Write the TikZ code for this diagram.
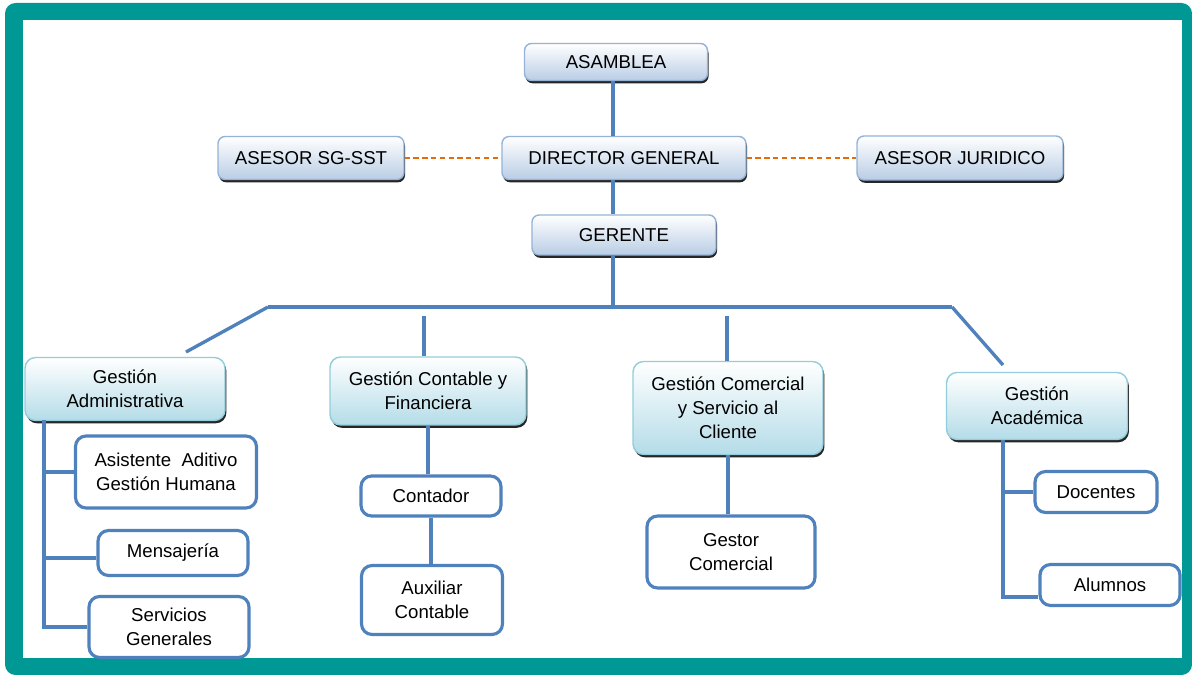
\documentclass[tikz,border=0pt]{standalone}
\usepackage{fontspec}
\setmainfont{Liberation Sans}
\usetikzlibrary{shadows}

\definecolor{frameteal}{RGB}{0,152,148}
\definecolor{linkblue}{RGB}{79,129,189}
\definecolor{advorange}{RGB}{228,108,10}
\definecolor{topfill}{RGB}{185,205,229}
\definecolor{topline}{RGB}{149,179,215}
\definecolor{areafill}{RGB}{180,220,232}
\definecolor{arealine}{RGB}{146,205,220}

\tikzset{
  topbox/.style={draw=topline, line width=0.8pt, rounded corners=4pt,
    top color=white, bottom color=topfill, inner sep=0pt,
    drop shadow={shadow xshift=0.6pt, shadow yshift=-1.6pt, fill=black!85, opacity=1}},
  areabox/.style={draw=arealine, line width=0.8pt, rounded corners=6pt,
    top color=white, bottom color=areafill, inner sep=0pt, align=center,
    drop shadow={shadow xshift=0.8pt, shadow yshift=-1.6pt, fill=black!85, opacity=1}},
  subbox/.style={draw=linkblue, line width=1.8pt, rounded corners=6pt,
    fill=white, inner sep=0pt, align=center},
  link/.style={draw=linkblue, line width=1.9pt},
  advice/.style={draw=advorange, line width=1.2pt, dash pattern=on 3pt off 2pt}
}

\begin{document}
\begin{tikzpicture}[x=0.02cm, y=-0.02cm, font=\fontsize{10.6}{13.6}\selectfont]
        \useasboundingbox (0,0) rectangle (1192,675);
        % frame
        \fill[frameteal, rounded corners=6pt] (5,3) rectangle (1192,675);
        \fill[white] (23,20) rectangle (1182,658);

        % top levels
        \node[topbox, minimum width=3.66cm, minimum height=0.74cm] (asam) at (616,62) {ASAMBLEA};
        \node[topbox, minimum width=4.88cm, minimum height=0.86cm] (dir) at (624,158) {DIRECTOR GENERAL\hspace{0.45cm}};
        \node[topbox, minimum width=3.72cm, minimum height=0.86cm] (sgsst) at (311,158) {ASESOR SG-SST};
        \node[topbox, minimum width=4.12cm, minimum height=0.88cm] (jur) at (960,158) {ASESOR JURIDICO};
        \node[topbox, minimum width=3.68cm, minimum height=0.80cm] (ger) at (624,235) {GERENTE};

        % areas
        \node[areabox, minimum width=4.00cm, minimum height=1.26cm] (adm) at (125,389) {Gestión\\Administrativa};
        \node[areabox, minimum width=3.92cm, minimum height=1.36cm] (cont) at (428,391) {Gestión Contable y\\Financiera};
        \node[areabox, minimum width=3.80cm, minimum height=1.86cm] (com) at (728,408) {Gestión Comercial\\y Servicio al\\Cliente};
        \node[areabox, minimum width=3.62cm, minimum height=1.34cm] (aca) at (1037,406) {Gestión\\Académica};

        % units
        \node[subbox, minimum width=3.62cm, minimum height=1.44cm] (asis) at (166,472) {Asistente\ \ Aditivo\\Gestión Humana};
        \node[subbox, minimum width=3.00cm, minimum height=0.90cm] (men) at (173,553) {Mensajería};
        \node[subbox, minimum width=3.20cm, minimum height=1.22cm] (ser) at (169,627) {Servicios\\Generales};
        \node[subbox, minimum width=2.80cm, minimum height=0.80cm] (ctd) at (431,496) {Contador};
        \node[subbox, minimum width=2.82cm, minimum height=1.38cm] (aux) at (432,600) {Auxiliar\\Contable};
        \node[subbox, minimum width=3.36cm, minimum height=1.44cm] (ges) at (731,552) {Gestor\\Comercial};
        \node[subbox, minimum width=2.44cm, minimum height=0.82cm] (doc) at (1096,492) {Docentes};
        \node[subbox, minimum width=2.80cm, minimum height=0.82cm] (alu) at (1110,585) {Alumnos};

        % trunk and bus
        \coordinate (trunk) at (613,307);
        \coordinate (busL) at (268,307);
        \coordinate (busR) at (952,307);
        \draw[link] (asam.south -| trunk) -- (dir.north -| trunk);
        \draw[link] (dir.south -| trunk) -- (ger.north -| trunk);
        \draw[link] (ger.south -| trunk) -- (trunk);
        \draw[link] (busL) -- (busR);
        \draw[advice] (sgsst) -- (dir);
        \draw[advice] (dir) -- (jur);

        % drops to the areas
        \coordinate (admEnd) at (186,352);
        \coordinate (contTop) at (424,316);
        \coordinate (comTop) at (727,316);
        \coordinate (acaEnd) at (1003,365);
        \draw[link] (busL) -- (admEnd);
        \draw[link] (contTop) -- (contTop |- cont.north);
        \draw[link] (comTop) -- (comTop |- com.north);
        \draw[link] (busR) -- (acaEnd);

        % subtrees
        \coordinate (admX) at (44,420);
        \draw[link] (admX) -- (admX |- ser.west) -- (ser.west);
        \draw[link] (admX |- asis.west) -- (asis.west);
        \draw[link] ([yshift=-0.1cm]admX |- men.west) -- ([yshift=-0.1cm]men.west);
        \draw[link] (cont.south) -- (cont.south |- ctd.north);
        \draw[link] (ctd.south) -- (ctd.south |- aux.north);
        \draw[link] (com.south) -- (com.south |- ges.north);
        \coordinate (acaX) at (1003,440);
        \draw[link] (acaX) -- ([yshift=-0.24cm]acaX |- alu.west) -- ([yshift=-0.24cm]alu.west);
        \draw[link] (acaX |- doc.west) -- (doc.west);
    \end{tikzpicture}
\end{document}
